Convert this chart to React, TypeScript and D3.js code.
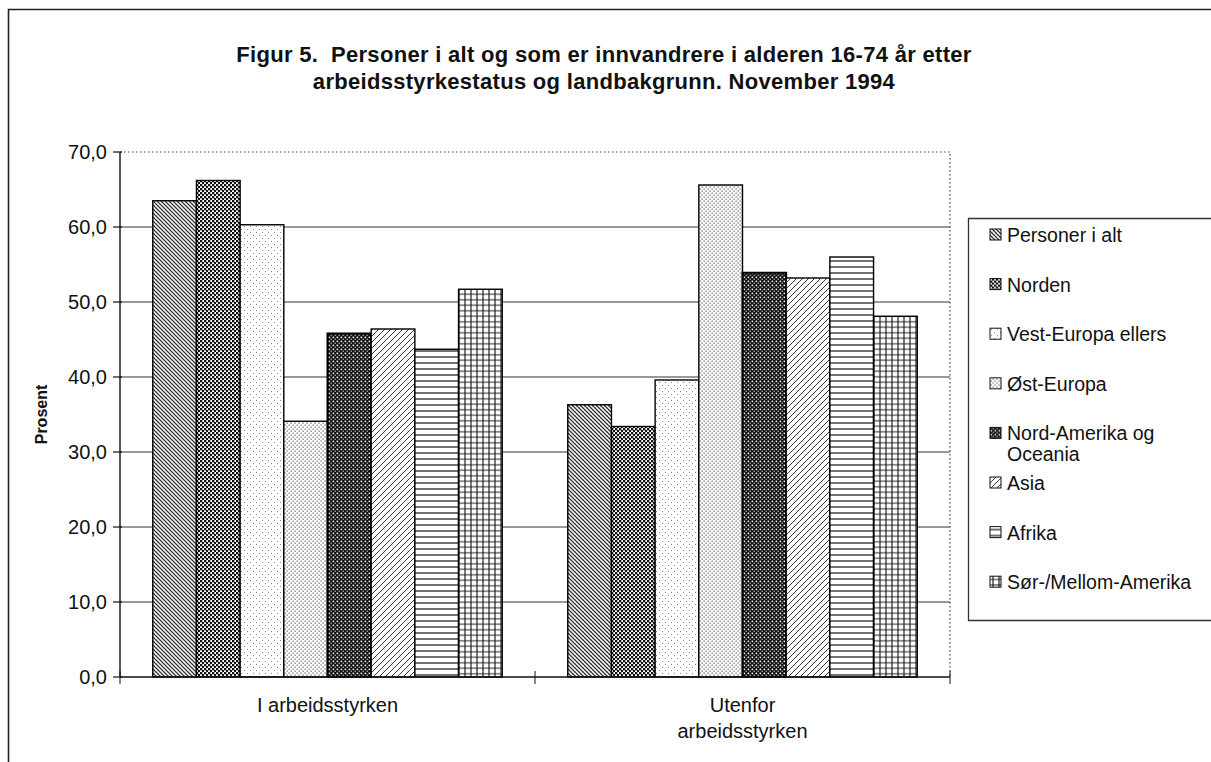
import React, { useEffect, useRef } from 'react';
import * as d3 from 'd3';

const categories = ['I arbeidsstyrken', 'Utenfor arbeidsstyrken'];
const categoryLabels = [['I arbeidsstyrken'], ['Utenfor', 'arbeidsstyrken']];
const seriesNames = [
    'Personer i alt', 'Norden', 'Vest-Europa ellers', 'Øst-Europa',
    'Nord-Amerika og Oceania', 'Asia', 'Afrika', 'Sør-/Mellom-Amerika'
];
const legendLines = [
    ['Personer i alt'], ['Norden'], ['Vest-Europa ellers'], ['Øst-Europa'],
    ['Nord-Amerika og', 'Oceania'], ['Asia'], ['Afrika'], ['Sør-/Mellom-Amerika']
];
const iArbeidsstyrken = [63.5, 66.2, 60.3, 34.1, 45.8, 46.4, 43.7, 51.7];
const utenforArbeidsstyrken = [36.3, 33.4, 39.6, 65.6, 53.9, 53.2, 56.0, 48.1];
const yTicks = [0, 10, 20, 30, 40, 50, 60, 70];
const titleLines = [
    'Figur 5.\u00a0 Personer i alt og som er innvandrere i alderen 16-74 år etter',
    'arbeidsstyrkestatus og landbakgrunn. November 1994'
];

const W = 1211;
const H = 762;
const FONT = '"Liberation Sans", Arial, Helvetica, sans-serif';
const LABEL_SIZE = '20px';

// one fill pattern per series, black and white like the print
function addPatterns(defs: d3.Selection<SVGDefsElement, unknown, null, undefined>) {
    const pat = (id: string, w: number, h: number, bg: string) => {
        const p = defs.append('pattern')
            .attr('id', id)
            .attr('patternUnits', 'userSpaceOnUse')
            .attr('width', w)
            .attr('height', h);
        p.append('rect').attr('width', w).attr('height', h).attr('fill', bg);
        return p;
    };

    // Personer i alt: fine diagonal weave
    const p0 = pat('pat0', 4, 4, '#fff');
    p0.append('path').attr('d', 'M0,0 L4,4 M-1,3 L1,5 M3,-1 L5,1')
        .attr('stroke', '#222').attr('stroke-width', 1.2);
    p0.append('path').attr('d', 'M0,4 L4,0')
        .attr('stroke', '#666').attr('stroke-width', 0.4);

    // Norden: dense checker
    const p1 = pat('pat1', 4, 4, '#fff');
    p1.append('rect').attr('x', 0).attr('y', 0).attr('width', 2.3).attr('height', 2.3).attr('fill', '#111');
    p1.append('rect').attr('x', 2).attr('y', 2).attr('width', 2.3).attr('height', 2.3).attr('fill', '#111');

    // Vest-Europa ellers: sparse light dots
    const p2 = pat('pat2', 6, 6, '#fff');
    p2.append('rect').attr('x', 1).attr('y', 1).attr('width', 1).attr('height', 1).attr('fill', '#888');
    p2.append('rect').attr('x', 4).attr('y', 4).attr('width', 1).attr('height', 1).attr('fill', '#888');

    // Øst-Europa: denser dots
    const p3 = pat('pat3', 4, 4, '#fff');
    p3.append('rect').attr('x', 0.5).attr('y', 0.5).attr('width', 1.2).attr('height', 1.2).attr('fill', '#555');
    p3.append('rect').attr('x', 2.5).attr('y', 2.5).attr('width', 1.2).attr('height', 1.2).attr('fill', '#555');

    // Nord-Amerika og Oceania: dark with white dots
    const p4 = pat('pat4', 4, 4, '#111');
    p4.append('rect').attr('x', 0.6).attr('y', 0.6).attr('width', 1.5).attr('height', 1.5).attr('fill', '#fff');
    p4.append('rect').attr('x', 2.6).attr('y', 2.6).attr('width', 1.2).attr('height', 1.2).attr('fill', '#ddd');

    // Asia: forward diagonal lines
    const p5 = pat('pat5', 6, 6, '#fff');
    p5.append('path').attr('d', 'M0,6 L6,0 M-1,1 L1,-1 M5,7 L7,5')
        .attr('stroke', '#222').attr('stroke-width', 0.9);

    // Afrika: horizontal lines
    const p6 = pat('pat6', 6, 6, '#fff');
    p6.append('path').attr('d', 'M0,3 L6,3').attr('stroke', '#111').attr('stroke-width', 1.2);

    // Sør-/Mellom-Amerika: grid
    const p7 = pat('pat7', 6, 5.5, '#fff');
    p7.append('path').attr('d', 'M0,2.75 L6,2.75 M3,0 L3,5.5')
        .attr('stroke', '#111').attr('stroke-width', 1.1);
}

const App: React.FC = () => {
    const svgRef = useRef<SVGSVGElement>(null);
    const margin = { top: 152, right: 261, bottom: 85, left: 120 };

    useEffect(() => {
        if (!svgRef.current) return;
        const svg = d3.select(svgRef.current);
        svg.selectAll('*').remove();

        const defs = svg.append('defs');
        addPatterns(defs);

        svg.append('rect').attr('width', W).attr('height', H).attr('fill', '#fff');

        // outer frame (runs off the right and bottom like the scan)
        svg.append('path')
            .attr('d', `M8.5,${H + 5} L8.5,9.5 L${W + 5},9.5`)
            .attr('fill', 'none')
            .attr('stroke', '#222')
            .attr('stroke-width', 1.6);

        const x0 = d3.scaleBand<string>()
            .domain(categories)
            .range([margin.left, W - margin.right])
            .padding(0);
        const x1 = d3.scaleBand<string>()
            .domain(seriesNames)
            .range([0, x0.bandwidth()])
            .paddingInner(0)
            .paddingOuter(0.75);
        const y = d3.scaleLinear()
            .domain([0, 70])
            .range([H - margin.bottom, margin.top]);

        const left = margin.left;
        const right = W - margin.right;

        // title
        svg.append('g')
            .selectAll('text')
            .data(titleLines)
            .enter()
            .append('text')
            .attr('x', 604)
            .attr('y', (d, i) => 62 + i * 27)
            .attr('text-anchor', 'middle')
            .attr('font-family', FONT)
            .attr('font-weight', 'bold')
            .attr('font-size', '22px')
            .attr('letter-spacing', '0.3px')
            .attr('fill', '#111')
            .text(d => d);

        // gridlines
        const grid = svg.append('g');
        grid.selectAll('line')
            .data(yTicks.filter(t => t > 0 && t < 70))
            .enter()
            .append('line')
            .attr('x1', left).attr('x2', right)
            .attr('y1', d => y(d)).attr('y2', d => y(d))
            .attr('stroke', '#333').attr('stroke-width', 1.1);

        // dotted top and right edges of the plot area
        svg.append('path')
            .attr('d', `M${left},${y(70)} L${right},${y(70)} L${right},${y(0)}`)
            .attr('fill', 'none')
            .attr('stroke', '#444')
            .attr('stroke-width', 1.2)
            .attr('stroke-dasharray', '1.5,2.5');

        // bars
        const data = [iArbeidsstyrken, utenforArbeidsstyrken];
        const groups = svg.append('g')
            .selectAll('.group')
            .data(categories)
            .enter()
            .append('g')
            .attr('class', 'group')
            .attr('transform', d => `translate(${x0(d)},0)`);

        groups.selectAll('rect')
            .data((d, i) => data[i].map((v, j) => ({ name: seriesNames[j], value: v, idx: j })))
            .enter()
            .append('rect')
            .attr('x', d => x1(d.name) as number)
            .attr('y', d => y(d.value))
            .attr('width', x1.bandwidth())
            .attr('height', d => y(0) - y(d.value))
            .attr('fill', d => `url(#pat${d.idx})`)
            .attr('stroke', '#000')
            .attr('stroke-width', d => d.idx === 4 ? 2 : 1.4);

        // y axis
        svg.append('line')
            .attr('x1', left).attr('x2', left)
            .attr('y1', y(70)).attr('y2', y(0))
            .attr('stroke', '#111').attr('stroke-width', 1.4);
        const yAxis = svg.append('g');
        yAxis.selectAll('line')
            .data(yTicks)
            .enter()
            .append('line')
            .attr('x1', left - 7).attr('x2', left + 2)
            .attr('y1', d => y(d)).attr('y2', d => y(d))
            .attr('stroke', '#111').attr('stroke-width', 1.2);
        yAxis.selectAll('text')
            .data(yTicks)
            .enter()
            .append('text')
            .attr('x', left - 13)
            .attr('y', d => y(d) + 7)
            .attr('text-anchor', 'end')
            .attr('font-family', FONT)
            .attr('font-size', LABEL_SIZE)
            .attr('fill', '#111')
            .text(d => d3.format('.1f')(d).replace('.', ','));

        // x axis
        svg.append('line')
            .attr('x1', left).attr('x2', right)
            .attr('y1', y(0)).attr('y2', y(0))
            .attr('stroke', '#111').attr('stroke-width', 1.4);
        const bounds = [left, ...categories.map(c => (x0(c) as number) + x0.bandwidth())];
        svg.append('g')
            .selectAll('line')
            .data(bounds)
            .enter()
            .append('line')
            .attr('x1', d => d).attr('x2', d => d)
            .attr('y1', y(0) - 6).attr('y2', y(0) + 7)
            .attr('stroke', '#111').attr('stroke-width', 1);

        const xLabels = svg.append('g');
        categories.forEach((c, i) => {
            xLabels.selectAll(`.xl${i}`)
                .data(categoryLabels[i])
                .enter()
                .append('text')
                .attr('class', `xl${i}`)
                .attr('x', (x0(c) as number) + x0.bandwidth() / 2)
                .attr('y', (d, k) => y(0) + 35 + k * 26)
                .attr('text-anchor', 'middle')
                .attr('font-family', FONT)
                .attr('font-size', LABEL_SIZE)
                .attr('fill', '#111')
                .text(d => d);
        });

        // y title
        svg.append('text')
            .attr('transform', `translate(47,${(y(0) + y(70)) / 2}) rotate(-90)`)
            .attr('text-anchor', 'middle')
            .attr('font-family', FONT)
            .attr('font-weight', 'bold')
            .attr('font-size', '16px')
            .attr('fill', '#111')
            .text('Prosent');

        // legend
        const legend = svg.append('g');
        legend.append('path')
            .attr('d', `M${W + 5},218.5 L968.5,218.5 L968.5,620.5 L${W + 5},620.5`)
            .attr('fill', '#fff')
            .attr('stroke', '#333')
            .attr('stroke-width', 1.3);
        const items = legend.selectAll('.item')
            .data(seriesNames)
            .enter()
            .append('g')
            .attr('class', 'item')
            .attr('transform', (d, i) => `translate(990,${235 + i * 49.6})`);
        items.append('rect')
            .attr('x', 0).attr('y', -6)
            .attr('width', 11).attr('height', 11)
            .attr('fill', (d, i) => `url(#pat${i})`)
            .attr('stroke', '#111').attr('stroke-width', 1);
        items.each(function (d, i) {
            d3.select(this).selectAll('text')
                .data(legendLines[i])
                .enter()
                .append('text')
                .attr('x', 17)
                .attr('y', (t, k) => 7 + k * 21)
                .attr('font-family', FONT)
                .attr('font-size', '19.5px')
                .attr('fill', '#111')
                .text(t => t);
        });
    }, []);

    return (
        <svg
            ref={svgRef}
            width={W}
            height={H}
            style={{ position: 'absolute', left: 0, top: 0 }}
        />
    );
};

export default App;
